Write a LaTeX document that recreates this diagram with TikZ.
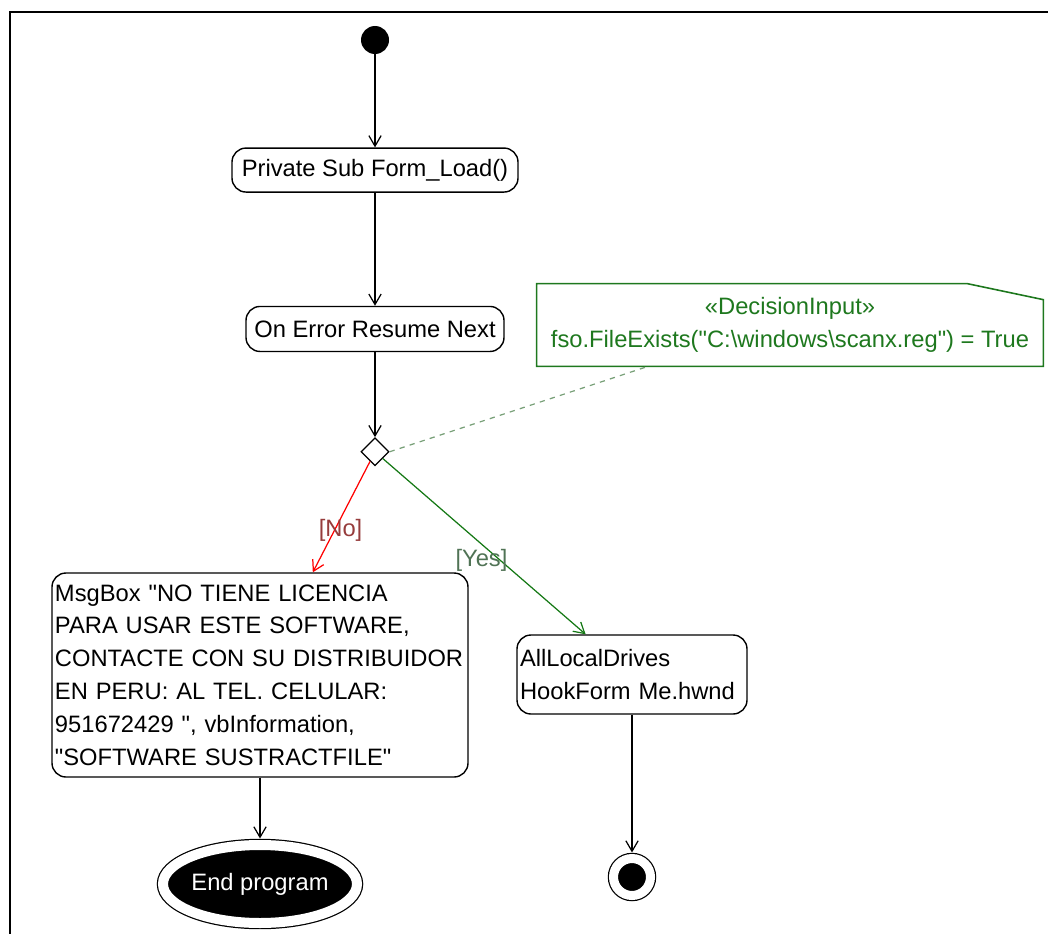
\documentclass[tikz,border=0pt]{standalone}
\usepackage{fontspec}
\setmainfont{Liberation Sans}[Ligatures=TeXOff]
\usetikzlibrary{arrows.meta,positioning,shapes.geometric,calc}
\definecolor{notegreen}{RGB}{30,120,30}
\definecolor{linkgreen}{RGB}{120,160,120}
\definecolor{yesgreen}{RGB}{20,120,20}
\definecolor{nolabel}{RGB}{150,60,60}
\definecolor{yeslabel}{RGB}{80,115,85}

\begin{document}
\begin{tikzpicture}[every node/.style={font=\fontsize{13.5}{18.7}\selectfont},
    act/.style={draw, rounded corners=0.28cm, line width=0.8pt, minimum height=0.88cm, inner sep=0.06cm},
    flow/.style={-{Straight Barb[length=6pt,width=7pt]}, line width=0.7pt},
    startdot/.style={circle, fill=black, minimum size=0.56cm, inner sep=0},
    decision/.style={diamond, draw, line width=0.7pt, minimum width=0.56cm, minimum height=0.56cm, inner sep=0},
    stopdot/.style={circle, fill=black, draw, double=white, double distance=0.18cm, line width=0.7pt, minimum size=0.74cm, inner sep=0, outer sep=0.12cm},
    endoval/.style={ellipse, fill=black, draw, double=white, double distance=0.2cm, line width=0.7pt, text=white, minimum width=3.88cm, minimum height=1.56cm, inner sep=0, outer sep=0.13cm}]
      \useasboundingbox (0,0) rectangle (20.96,-18.68);
      \draw[line width=1.3pt] (0.2,-18.68) -- (0.2,-0.24) -- (20.96,-0.24);

      \node[startdot] (start) at (7.5,-0.8) {};
      \node[act, minimum width=5.72cm, below=1.86 of start] (load) {Private Sub Form\_Load()};
      \node[act, minimum width=5.16cm, minimum height=0.9cm, below=2.26 of load] (err) {On Error Resume Next};
      \node[decision, below=1.7 of err] (dec) {};

      \node[text=notegreen, align=center, minimum width=10.12cm, minimum height=1.64cm, inner sep=0] (note) at (15.8,-6.5)
        {«DecisionInput»\\fso.FileExists("C:\textbackslash windows\textbackslash scanx.reg") = True};
      \draw[notegreen, line width=0.9pt] (note.south west) |- ($(note.north east)+(-1.52,0)$) -- ($(note.north east)+(0,-0.32)$) -- (note.south east) -- cycle;

      \node[act, text width=8.2cm, align=left, minimum height=4.08cm] (msg) at (5.2,-13.5)
        {MsgBox "NO TIENE LICENCIA\\PARA USAR ESTE SOFTWARE,\\CONTACTE CON SU DISTRIBUIDOR\\EN PERU: AL TEL. CELULAR:\\951672429 ", vbInformation,\\"SOFTWARE SUSTRACTFILE"};
      \node[act, text width=4.48cm, align=left, minimum height=1.58cm] (drv) at (12.64,-13.49)
        {AllLocalDrives\\HookForm Me.hwnd};

      \node[endoval] (endp) at (5.2,-17.68) {End program};
      \node[stopdot] (fin) at (12.64,-17.54) {};

      \draw[flow] (start) -- (load);
      \draw[flow] (load) -- (err);
      \draw[flow] (err) -- (dec);
      \draw[linkgreen, dashed, line width=0.7pt] (dec.east) -- ($(note.south west)!0.22!(note.south east)$);
      \draw[flow, red] (dec) -- node[pos=0.62, xshift=0.12cm, text=nolabel] {[No]} (msg);
      \draw[flow, yesgreen] (dec) -- node[pos=0.58, xshift=-0.38cm, text=yeslabel] {[Yes]} (drv);
      \draw[flow] (msg) -- (endp);
      \draw[flow] (drv) -- (fin);
\end{tikzpicture}
\end{document}
